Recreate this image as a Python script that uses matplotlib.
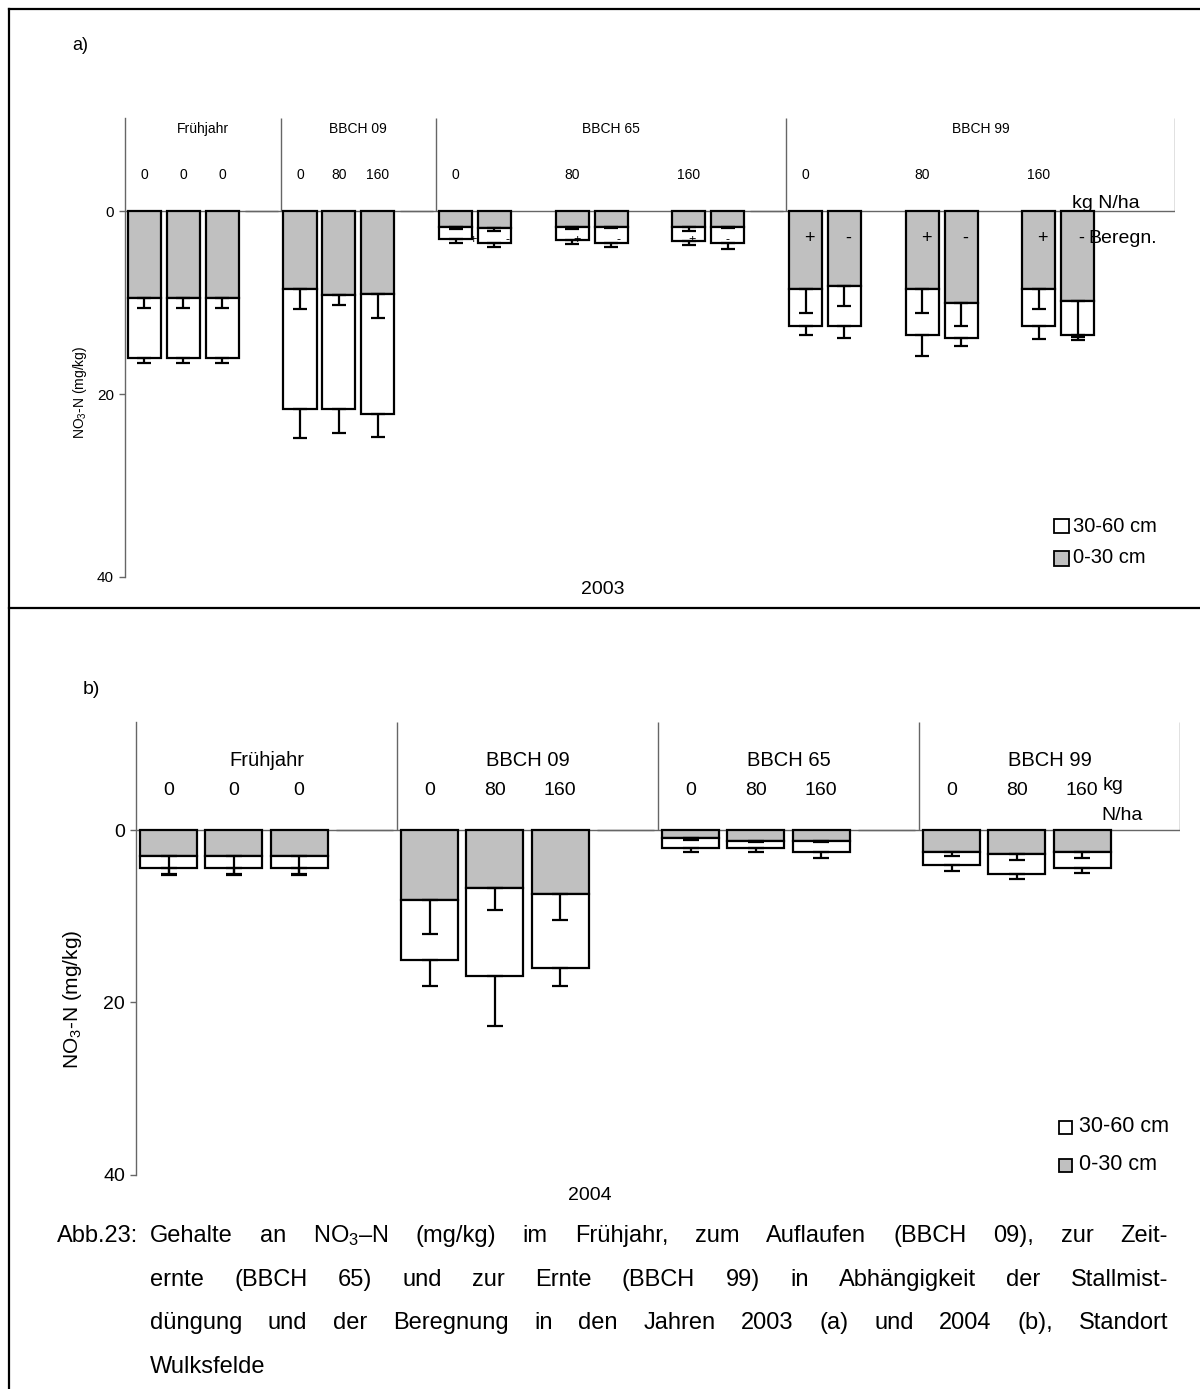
import matplotlib
matplotlib.use("Agg")
import matplotlib.pyplot as plt
import numpy as np
from matplotlib.patches import Rectangle
from matplotlib.lines import Line2D

plt.rcParams['font.family'] = ['Liberation Sans', 'DejaVu Sans']
plt.rcParams['mathtext.fontset'] = 'custom'
plt.rcParams['mathtext.rm'] = 'Liberation Sans'
plt.rcParams['mathtext.it'] = 'Liberation Sans:italic'
plt.rcParams['mathtext.bf'] = 'Liberation Sans:bold'

# ---------------- data ----------------
stages = ["Frühjahr", "BBCH 09", "BBCH 65", "BBCH 99"]

# 2003: NO3-N (mg/kg), 0-30 cm layer and 30-60 cm layer, with standard deviations
doses_2003 = ["0", "0", "0",
              "0", "80", "160",
              "0", "", "80", "", "160", "",
              "0", "", "80", "", "160", ""]
irrig_2003 = ["", "", "", "", "", "",
              "+", "-", "+", "-", "+", "-",
              "+", "-", "+", "-", "+", "-"]
top_2003 = [9.5, 9.5, 9.5,
            8.55, 9.2, 9.1,
            1.7, 1.8, 1.7, 1.7, 1.7, 1.7,
            8.45, 8.2, 8.45, 10.0, 8.45, 9.85]
sub_2003 = [6.6, 6.6, 6.6,
            13.05, 12.4, 13.1,
            1.3, 1.7, 1.4, 1.8, 1.5, 1.8,
            4.05, 4.4, 5.05, 3.85, 4.05, 3.65]
top_sd_2003 = [1.1, 1.1, 1.1,
               2.15, 1.1, 2.6,
               0.2, 0.4, 0.2, 0.1, 0.45, 0.1,
               2.65, 2.2, 2.65, 2.5, 2.25, 4.25]
sub_sd_2003 = [0.5, 0.5, 0.5,
               3.2, 2.7, 2.5,
               0.5, 0.4, 0.5, 0.4, 0.5, 0.65,
               1.0, 1.3, 2.35, 0.85, 1.5, 0.25]

# 2004
doses_2004 = ["0", "0", "0",
              "0", "80", "160",
              "0", "80", "160",
              "0", "80", "160"]
top_2004 = [3.0, 3.0, 3.0,
            8.1, 6.7, 7.4,
            0.9, 1.25, 1.25,
            2.6, 2.8, 2.6]
sub_2004 = [1.4, 1.4, 1.4,
            7.0, 10.2, 8.6,
            1.2, 0.85, 1.35,
            1.5, 2.3, 1.8]
top_sd_2004 = [2.1, 2.1, 2.1,
               4.0, 2.6, 3.0,
               0.25, 0.15, 0.15,
               0.4, 0.7, 0.6]
sub_sd_2004 = [0.8, 0.8, 0.8,
               3.0, 5.8, 2.1,
               0.4, 0.4, 0.6,
               0.7, 0.6, 0.55]

legend_labels = ["30-60 cm", "0-30 cm"]
yticks = [0, 20, 40]

GREY = "#c0c0c0"
AXCOL = "#666666"

W, H = 1200, 1389
fig = plt.figure(figsize=(W / 100, H / 100), dpi=100)


def fx(x):
    return x / W


def fy(y):
    return 1 - y / H


def add_ax(l, t, r, b):
    return fig.add_axes([fx(l), fy(b), (r - l) / W, (b - t) / H])


def layout(patterns):
    """b = bar slot, _ = empty spacer bar, . = free slot"""
    bars, spacers, bounds, pos = [], [], [0], 0
    for p in patterns:
        for ch in p:
            if ch == "b":
                bars.append(pos + 0.5)
            elif ch == "_":
                spacers.append(pos + 0.5)
            pos += 1
        bounds.append(pos)
    return np.array(bars), np.array(spacers), bounds


def panel(ax, patterns, ytop, top, sub, top_sd, sub_sd, doses,
          stage_y, dose_y, stage_fs, dose_fs, tick_fs, bar_w, cap):
    xb, xs, bounds = layout(patterns)
    top = np.array(top)
    sub = np.array(sub)
    ax.set_xlim(0, bounds[-1])
    ax.set_ylim(40, ytop)
    for s in ["top", "right", "bottom"]:
        ax.spines[s].set_visible(False)
    ax.spines["left"].set_color(AXCOL)
    ax.spines["left"].set_linewidth(1.0)
    ax.set_xticks([])
    ax.set_yticks(yticks)
    ax.tick_params(axis="y", direction="out", length=4, width=1.0,
                   color=AXCOL, labelsize=tick_fs, pad=4)
    ax.axhline(0, color=AXCOL, lw=1.0, zorder=1)
    ax.vlines(bounds[1:], ytop, 0, color=AXCOL, lw=1.0, zorder=1)

    ax.bar(xb, top, width=bar_w, color=GREY, edgecolor="black", lw=1.6, zorder=2)
    ax.bar(xb, sub, width=bar_w, bottom=top, color="white",
           edgecolor="black", lw=1.6, zorder=2)
    ax.bar(xs, np.zeros(len(xs)), width=bar_w, color="white",
           edgecolor=AXCOL, lw=1.0, zorder=2)
    z = np.zeros(len(xb))
    ax.errorbar(xb, top, yerr=[z, top_sd], fmt="none", ecolor="black",
                elinewidth=1.6, capsize=cap, capthick=1.6, zorder=3)
    ax.errorbar(xb, top + sub, yerr=[z, sub_sd], fmt="none", ecolor="black",
                elinewidth=1.6, capsize=cap, capthick=1.6, zorder=3)

    for i, st in enumerate(stages):
        ax.text((bounds[i] + bounds[i + 1]) / 2, stage_y, st,
                ha="center", va="center", fontsize=stage_fs)
    for x, d in zip(xb, doses):
        if d:
            ax.text(x, dose_y, d, ha="center", va="center", fontsize=dose_fs)
    return xb


# ---------------- panel a) 2003 ----------------
ax1 = add_ax(125, 118, 1175, 577)
xb1 = panel(ax1, ["bbb_", "bbb_", "bb.bb.bb_", "bb.bb.bb.."], -10.2,
            top_2003, sub_2003, top_sd_2003, sub_sd_2003, doses_2003,
            -8.95, -3.95, 10, 10, 11, 0.85, 5)

# irrigation marks (+ irrigated, - not irrigated)
small_dx = [0.44, 0.33, 0.13, 0.18, 0.08, 0.0]
for k, (x, s) in enumerate(zip(xb1, irrig_2003)):
    if not s:
        continue
    j = k - 6
    if j < 6:
        ax1.text(x + small_dx[j], 3.1, s, ha="center", va="center", fontsize=9)
    else:
        ax1.text(x + 0.1, 2.95, s, ha="center", va="center", fontsize=13)
ax1.text(24.35, -0.9, "kg N/ha", ha="left", va="center", fontsize=14)
ax1.text(24.76, 2.95, "Beregn.", ha="left", va="center", fontsize=14)

fig.text(fx(80), fy(392), "NO$_3$-N (mg/kg)", rotation=90,
         ha="center", va="center", fontsize=10)
fig.text(fx(80), fy(45), "a)", ha="center", va="center", fontsize=13)
fig.text(fx(603), fy(590), "2003", ha="center", va="center", fontsize=14)

for lab, yc, fc in [(legend_labels[0], 526, "white"), (legend_labels[1], 558, GREY)]:
    fig.add_artist(Rectangle((fx(1054), fy(yc + 7.5)), 15 / W, 15 / H,
                             facecolor=fc, edgecolor="black", lw=1.3,
                             transform=fig.transFigure))
    fig.text(fx(1073), fy(yc), lab, ha="left", va="center", fontsize=14.5)

# ---------------- panel b) 2004 ----------------
ax2 = add_ax(136, 721.5, 1180, 1174.8)
panel(ax2, ["bbb_", "bbb_", "bbb_", "bbb."], -12.6,
      top_2004, sub_2004, top_sd_2004, sub_sd_2004, doses_2004,
      -8.1, -4.6, 14.5, 14, 14, 0.87, 6)
ax2.text(14.82, -5.2, "kg", ha="left", va="center", fontsize=14)
ax2.text(14.80, -1.75, "N/ha", ha="left", va="center", fontsize=14)

fig.text(fx(72), fy(999), "NO$_3$-N (mg/kg)", rotation=90,
         ha="center", va="center", fontsize=15)
fig.text(fx(91), fy(690), "b)", ha="center", va="center", fontsize=14)
fig.text(fx(590), fy(1195), "2004", ha="center", va="center", fontsize=14)

for lab, yc, fc in [(legend_labels[0], 1127, "white"), (legend_labels[1], 1165, GREY)]:
    fig.add_artist(Rectangle((fx(1059), fy(yc + 6.5)), 13 / W, 13 / H,
                             facecolor=fc, edgecolor="black", lw=1.3,
                             transform=fig.transFigure))
    fig.text(fx(1079), fy(yc), lab, ha="left", va="center", fontsize=15.5)

# ---------------- frames ----------------
for xs_, ys_ in [([9, W], [9, 9]), ([9, 9], [9, H]), ([9, W], [608, 608])]:
    fig.add_artist(Line2D([fx(v) for v in xs_], [fy(v) for v in ys_],
                          color="black", lw=1.6, transform=fig.transFigure))

# ---------------- caption (justified) ----------------
renderer = fig.canvas.get_renderer()
CAP_FS = 17


def put_line(words, y, x0, x1=None):
    texts = [fig.text(0, fy(y), w, ha="left", va="center", fontsize=CAP_FS)
             for w in words]
    widths = [t.get_window_extent(renderer).width for t in texts]
    gap = renderer.points_to_pixels(CAP_FS) * 0.28
    if x1 is not None and len(words) > 1:
        gap = (x1 - x0 - sum(widths)) / (len(words) - 1)
    x = x0
    for t, w in zip(texts, widths):
        t.set_x(fx(x))
        x += w + gap


caption = [
    "Gehalte an NO$_3$–N (mg/kg) im Frühjahr, zum Auflaufen (BBCH 09), zur Zeit-",
    "ernte (BBCH 65) und zur Ernte (BBCH 99) in Abhängigkeit der Stallmist-",
    "düngung und der Beregnung in den Jahren 2003 (a) und 2004 (b), Standort",
    "Wulksfelde",
]
fig.text(fx(57), fy(1236), "Abb.23:", ha="left", va="center", fontsize=CAP_FS)


def split_words(s):
    out, cur, in_math = [], "", False
    for ch in s:
        if ch == "$":
            in_math = not in_math
        if ch == " " and not in_math:
            out.append(cur)
            cur = ""
        else:
            cur += ch
    out.append(cur)
    return out


for i, (line, y) in enumerate(zip(caption, [1236, 1280, 1323, 1367])):
    put_line(split_words(line), y, 150, 1168 if i < 3 else None)

fig.savefig("out.png", dpi=100)
